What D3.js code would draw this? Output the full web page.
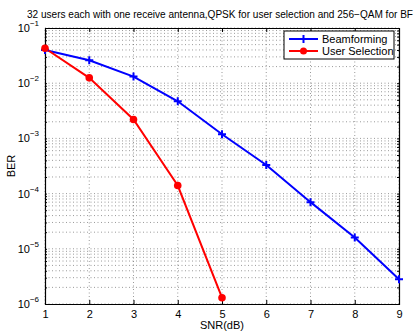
<!DOCTYPE html>
<html>
<head>
<meta charset="utf-8">
<script src="https://cdn.jsdelivr.net/npm/d3@7"></script>
<style>
  body { margin: 0; background: #fff; }
  text { font-family: "Liberation Sans", Arial, sans-serif; fill: #000; }
</style>
</head>
<body>
<div class="C"></div>
<script>
// chart values
var snr = [1, 2, 3, 4, 5, 6, 7, 8, 9];
var berBeamforming = [0.040, 0.026, 0.0132, 0.0047, 0.00119, 3.3e-4, 7.0e-5, 1.6e-5, 2.8e-6];
var snrUserSel = [1, 2, 3, 4, 5];
var berUserSel = [0.043, 0.0125, 0.0022, 1.4e-4, 1.3e-6];
var yDecades = [-1, -2, -3, -4, -5, -6];
var seriesNames = ['Beamforming', 'User Selection'];
var titleText = '32 users each with one receive antenna,QPSK for user selection and 256\u2212QAM for BF';

var W = 417, H = 332;
var m = {left: 45, right: 18, top: 28, bottom: 28};

var svg = d3.select('.C').append('svg').attr('width', W).attr('height', H);

var x = d3.scaleLinear().domain([1, 9]).range([m.left, W - m.right]);
var y = d3.scaleLog().domain([1e-6, 1e-1]).range([H - m.bottom, m.top]);

// grid
var grid = svg.append('g');
var minorY = [];
yDecades.forEach(function (e) {
    for (var k = 1; k < 10; k++) {
        var v = k * Math.pow(10, e);
        if (v >= 1e-6 && v <= 1e-1) minorY.push(v);
    }
});
grid.selectAll('.gy').data(minorY).enter().append('line')
    .attr('x1', x(1)).attr('x2', x(9))
    .attr('y1', function (d) { return y(d); }).attr('y2', function (d) { return y(d); })
    .style('stroke', '#555').style('stroke-width', 0.6).style('stroke-dasharray', '1,2.5');
grid.selectAll('.gx').data(snr).enter().append('line')
    .attr('y1', y(1e-6)).attr('y2', y(1e-1))
    .attr('x1', function (d) { return x(d); }).attr('x2', function (d) { return x(d); })
    .style('stroke', '#555').style('stroke-width', 0.6).style('stroke-dasharray', '1,2.5');

// axes (ticks inside, box)
var xAxis = svg.append('g').attr('transform', 'translate(0,' + y(1e-6) + ')')
    .call(d3.axisBottom(x).tickValues(snr).tickFormat(d3.format('d')).tickSizeInner(-4).tickSizeOuter(0).tickPadding(6));
svg.append('g').attr('transform', 'translate(0,' + y(1e-1) + ')')
    .call(d3.axisTop(x).tickValues(snr).tickFormat('').tickSizeInner(-4).tickSizeOuter(0));
svg.append('g').attr('transform', 'translate(' + x(1) + ',0)')
    .call(d3.axisLeft(y).tickValues(minorY).tickFormat('').tickSize(-2));
svg.append('g').attr('transform', 'translate(' + x(9) + ',0)')
    .call(d3.axisRight(y).tickValues(minorY).tickFormat('').tickSize(-2));
svg.selectAll('.domain').style('stroke', '#000').style('stroke-width', 1.2);
svg.selectAll('.tick line').style('stroke', '#000');
xAxis.selectAll('text').style('font-size', '11px').style('font-family', '"Liberation Sans", Arial, sans-serif');

// y decade labels
var lab = svg.append('g').selectAll('text').data(yDecades).enter().append('text')
    .attr('x', x(1) - 6).attr('y', function (d) { return y(Math.pow(10, d)) + 4; })
    .attr('text-anchor', 'end').style('font-size', '11px');
lab.append('tspan').text('10');
lab.append('tspan').attr('dy', -6).style('font-size', '8px').text(function (d) { return '\u2212' + (-d); });

// titles
svg.append('text').attr('x', 27).attr('y', 18)
    .attr('textLength', 386).attr('lengthAdjust', 'spacingAndGlyphs')
    .style('font-size', '10px').text(titleText);
svg.append('text').attr('x', (x(1) + x(9)) / 2).attr('y', 329).attr('text-anchor', 'middle')
    .style('font-size', '11px').text('SNR(dB)');
svg.append('text').attr('transform', 'translate(15,' + ((y(1e-1) + y(1e-6)) / 2) + ') rotate(-90)')
    .attr('text-anchor', 'middle').style('font-size', '11px').text('BER');

// lines
var line = d3.line().x(function (d) { return x(d[0]); }).y(function (d) { return y(d[1]); });
var bf = d3.zip(snr, berBeamforming);
var us = d3.zip(snrUserSel, berUserSel);

svg.append('path').datum(bf).attr('d', line)
    .style('fill', 'none').style('stroke', '#0000ff').style('stroke-width', 2);
svg.append('path').datum(us).attr('d', line)
    .style('fill', 'none').style('stroke', '#ff0000').style('stroke-width', 2);

svg.selectAll('.bfm').data(bf).enter().append('path')
    .attr('transform', function (d) { return 'translate(' + x(d[0]) + ',' + y(d[1]) + ')'; })
    .attr('d', 'M-4,0H4M0,-4V4').style('stroke', '#0000ff').style('stroke-width', 2);
svg.selectAll('.usm').data(us).enter().append('circle')
    .attr('cx', function (d) { return x(d[0]); }).attr('cy', function (d) { return y(d[1]); })
    .attr('r', 3.8).style('fill', '#ff0000');

// legend
var lg = svg.append('g').attr('transform', 'translate(284,31)');
lg.append('rect').attr('width', 110).attr('height', 28)
    .style('fill', '#fff').style('stroke', '#000').style('stroke-width', 1);
var colors = ['#0000ff', '#ff0000'];
var items = lg.selectAll('.li').data(seriesNames).enter().append('g')
    .attr('transform', function (d, i) { return 'translate(0,' + (8 + i * 12) + ')'; });
items.append('line').attr('x1', 5).attr('x2', 34).attr('y1', 0).attr('y2', 0)
    .style('stroke', function (d, i) { return colors[i]; }).style('stroke-width', 2);
items.each(function (d, i) {
    var g = d3.select(this);
    if (i === 0) g.append('path').attr('d', 'M15.5,0H23.5M19.5,-4V4').style('stroke', colors[0]).style('stroke-width', 2);
    else g.append('circle').attr('cx', 19.5).attr('cy', 0).attr('r', 3.5).style('fill', colors[1]);
});
items.append('text').attr('x', 38).attr('y', 4).style('font-size', '11px').text(function (d) { return d; });
</script>
</body>
</html>
